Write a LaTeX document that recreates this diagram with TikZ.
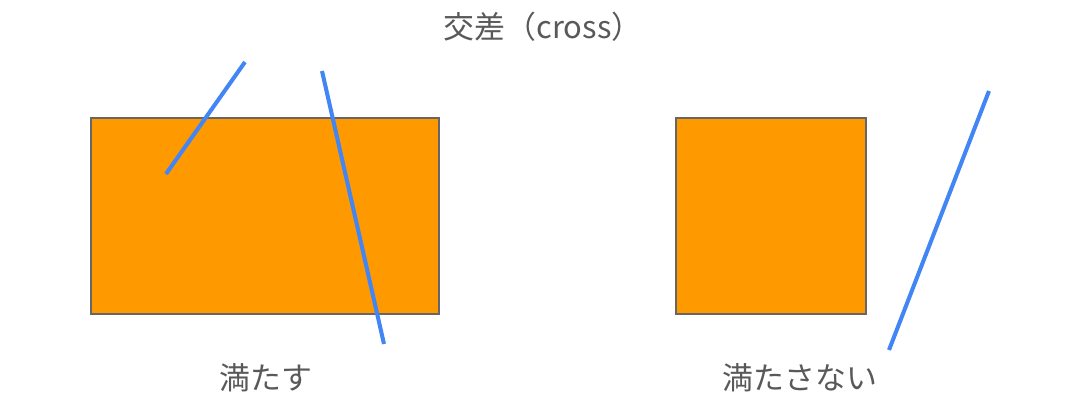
\documentclass[tikz,border=0pt]{standalone}
\usepackage{fontspec}
\usepackage{tikz}
\newfontfamily\cjk{Noto Sans CJK JP}
\definecolor{boxorange}{HTML}{FF9900}
\definecolor{boxedge}{HTML}{666666}
\definecolor{segblue}{HTML}{4285F4}
\definecolor{labelgray}{HTML}{595959}

\begin{document}
\begin{tikzpicture}[x=0.02cm, y=-0.02cm]
\tikzset{
  region/.style={fill=boxorange, draw=boxedge, line width=0.6pt},
  segment/.style={draw=segblue, line width=2.3pt},
  caption/.style={text=labelgray, font=\cjk\fontsize{17.6pt}{21pt}\selectfont, inner sep=0pt}
}
\useasboundingbox (0,0) rectangle (1080,416);

\draw[region]  (91,118) rectangle (439,314);
\draw[region]  (676,118) rectangle (866,314);

\draw[segment]  (166,174) -- (245,62);
\draw[segment]  (322,71) -- (384,344);
\draw[segment]  (889,350) -- (989,91);

\node[caption] (title) at (543,27) {交差（cross）};
\node[caption] (yes) at (266,378) {満たす};
\node[caption] (no) at (800,378) {満たさない};

\end{tikzpicture}
\end{document}
